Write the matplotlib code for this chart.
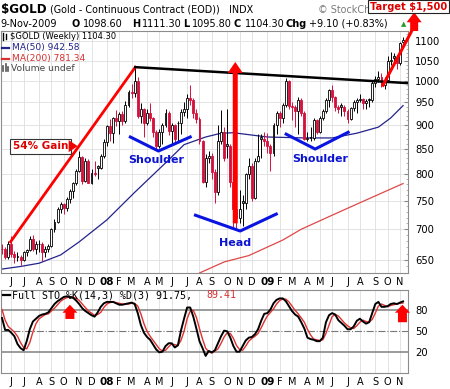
import matplotlib
matplotlib.use('Agg')
import matplotlib.pyplot as plt
import numpy as np
import pandas as pd
from matplotlib.patches import Polygon
from matplotlib.lines import Line2D
from matplotlib.transforms import IdentityTransform
from matplotlib.ticker import FixedLocator, NullFormatter

plt.rcParams['font.family'] = ['DejaVu Sans']

W, H = 450, 389

#--------
# weekly bars, week of 14-May-2007 up to week of 9-Nov-2009
week_start = '2007-05-14'

opens = [668, 667, 655, 676, 660, 655, 655, 650, 662, 666,
         683, 667, 675, 675, 663, 668, 673, 700, 712, 735,
         743, 737, 752, 767, 783, 806, 832, 786, 825, 783,
         802, 816, 812, 835, 863, 897, 883, 914, 908, 924,
         908, 945, 975, 972, 1000, 920, 935, 905, 925, 915,
         885, 855, 885, 900, 925, 887, 900, 905, 903, 928,
         935, 960, 955, 926, 913, 865, 785, 830, 835, 803,
         765, 865, 885, 860, 855, 785, 735, 720, 750, 745,
         800, 815, 755, 825, 875, 870, 865, 855, 840, 900,
         925, 915, 945, 1000, 942, 940, 930, 955, 925, 870,
         875, 872, 910, 885, 915, 930, 955, 978, 962, 940,
         945, 940, 930, 912, 937, 950, 955, 958, 948, 958,
         955, 995, 1006, 1010, 990, 1003, 1050, 1062, 1058, 1045,
         1098.6]
highs = [675, 670, 680, 688, 664, 662, 658, 664, 668, 688,
         690, 680, 682, 678, 672, 676, 702, 718, 738, 748,
         746, 756, 772, 785, 810, 845, 835, 830, 828, 810,
         825, 818, 838, 870, 900, 912, 918, 932, 928, 930,
         952, 978, 992, 1034, 1010, 948, 938, 935, 948, 918,
         888, 890, 905, 935, 930, 905, 902, 908, 935, 950,
         970, 990, 960, 935, 918, 868, 838, 845, 840, 810,
         900, 932, 895, 935, 860, 790, 745, 770, 760, 802,
         830, 820, 830, 880, 880, 885, 882, 860, 905, 930,
         930, 948, 1007, 1002, 950, 945, 962, 960, 930, 885,
         895, 915, 912, 920, 935, 960, 982, 990, 965, 945,
         948, 945, 935, 940, 955, 960, 970, 960, 958, 960,
         1000, 1012, 1024, 1020, 1010, 1062, 1072, 1070, 1065, 1098,
         1111.3]
lows = [660, 652, 652, 655, 646, 648, 642, 648, 656, 664,
        664, 660, 662, 648, 655, 662, 670, 696, 710, 728,
        726, 732, 746, 755, 778, 803, 780, 784, 782, 780,
        795, 790, 810, 830, 855, 865, 862, 898, 880, 900,
        905, 940, 960, 962, 915, 905, 875, 900, 908, 875,
        848, 852, 860, 895, 878, 860, 862, 865, 880, 920,
        915, 945, 915, 905, 860, 782, 775, 820, 790, 745,
        760, 860, 825, 830, 775, 700, 698, 710, 705, 735,
        790, 750, 752, 822, 830, 855, 840, 805, 835, 880,
        895, 905, 940, 935, 910, 895, 880, 920, 868, 865,
        865, 868, 880, 882, 910, 925, 940, 950, 930, 925,
        920, 920, 905, 910, 930, 925, 950, 935, 935, 940,
        950, 985, 998, 985, 982, 1000, 1040, 1040, 1030, 1040,
        1095.8]
closes = [667, 655, 676, 660, 655, 655, 650, 662, 666, 683,
          667, 675, 675, 663, 668, 673, 700, 712, 735, 743,
          737, 752, 767, 783, 806, 832, 786, 825, 783, 802,
          800, 812, 835, 863, 897, 883, 914, 908, 924, 908,
          945, 975, 972, 1000, 920, 935, 905, 925, 915, 885,
          855, 885, 900, 925, 887, 900, 870, 903, 928, 935,
          960, 955, 926, 913, 865, 785, 830, 835, 803, 765,
          865, 885, 830, 855, 785, 735, 720, 735, 745, 800,
          815, 755, 825, 835, 870, 865, 855, 840, 900, 925,
          915, 945, 1000, 942, 940, 930, 955, 925, 870, 870,
          872, 910, 885, 915, 930, 955, 978, 962, 940, 935,
          940, 930, 912, 937, 950, 955, 958, 948, 952, 955,
          995, 1006, 1010, 990, 1003, 1050, 1050, 1058, 1045, 1095,
          1104.3]

# moving averages (bar index -> value)
ma50_bars = [0, 6, 12, 19, 25, 34, 43, 54, 59, 66, 71, 75, 86, 98, 107, 115, 122, 126, 130]
ma50_vals = [636, 640, 645, 658, 679, 716, 765, 827, 858, 874, 882, 883, 874, 872, 872, 882, 895, 915, 942.58]
ma200_bars = [63, 64, 72, 80, 91, 97, 107, 118, 130]
ma200_vals = [625, 630, 647, 657, 682, 700, 724, 751, 781.34]

# full stochastics %K(14,3) and %D(3)
pct_k = [68, 51, 51, 47, 42, 31, 25, 22, 35, 52,
         63, 67, 71, 73, 74, 76, 82, 88, 92, 95,
         98, 99, 98, 97, 93, 88, 82, 78, 75, 72,
         70, 76, 84, 89, 91, 91, 91, 89, 87, 87,
         88, 89, 90, 88, 75, 58, 47, 41, 37, 30,
         23, 19, 20, 28, 32, 32, 26, 29, 50, 67,
         83, 83, 70, 53, 35, 25, 14, 21, 19, 22,
         32, 42, 50, 49, 40, 28, 20, 20, 28, 36,
         40, 41, 45, 52, 64, 74, 75, 80, 89, 94,
         96, 96, 92, 85, 78, 73, 70, 62, 53, 40,
         38, 37, 35, 35, 40, 62, 72, 75, 73, 65,
         61, 57, 52, 52, 56, 64, 67, 63, 60, 62,
         75, 88, 91, 84, 84, 85, 88, 89, 88, 90,
         91.75]
pct_d = [80, 65, 56, 52, 48, 42, 33, 26, 24, 33,
         48, 60, 67, 70, 73, 74, 78, 82, 87, 92,
         95, 97, 98, 98, 96, 93, 88, 83, 78, 75,
         72, 73, 76, 83, 88, 90, 91, 90, 89, 88,
         88, 88, 89, 89, 85, 74, 60, 49, 42, 36,
         30, 24, 21, 22, 27, 31, 30, 29, 36, 49,
         67, 78, 79, 69, 53, 38, 25, 20, 18, 21,
         24, 32, 41, 47, 46, 39, 29, 23, 22, 28,
         35, 39, 42, 46, 54, 63, 71, 76, 81, 88,
         93, 95, 95, 91, 85, 79, 74, 68, 62, 52,
         44, 38, 37, 36, 37, 46, 58, 70, 73, 71,
         66, 61, 57, 54, 53, 57, 62, 65, 63, 62,
         66, 75, 85, 88, 86, 84, 86, 87, 88, 89,
         89.41]

price_ticks = [650, 700, 750, 800, 850, 900, 950, 1000, 1050, 1100]
sto_ticks = [20, 50, 80]

candle_red = '#d4103c'
arrow_red = '#ff0000'
pattern_blue = '#0a14e0'

#--------
def fx(x):
    return x / W

def fy(y):
    return 1 - y / H

fig = plt.figure(figsize=(W / 100, H / 100), dpi=100)
fig.patch.set_facecolor('white')

ax = fig.add_axes([fx(0.5), fy(273), (408 - 0.5) / W, (273 - 31) / H])
ax2 = fig.add_axes([fx(0.5), fy(372.7), (408 - 0.5) / W, (372.7 - 290) / H])

n = len(closes)
bars = np.arange(n)
dates = pd.date_range(week_start, periods=n, freq='7D')

# month ticks at first weekly bar of each month
tick_pos = [i for i, d in enumerate(dates) if d.day <= 7]
tick_lab = [dates[i].strftime('%y') if dates[i].month == 1 else dates[i].strftime('%b')[0]
            for i in tick_pos]

for a in (ax, ax2):
    a.set_xlim(-0.5, 131.6)
    for s in a.spines.values():
        s.set_color('#8c8c8c')
        s.set_linewidth(0.8)
    a.set_xticks(tick_pos)
    a.set_xticklabels(tick_lab, fontsize=7)
    for lab, d in zip(a.get_xticklabels(), tick_pos):
        if dates[d].month == 1:
            lab.set_fontweight('bold')
            lab.set_fontsize(7.5)
    a.tick_params(axis='x', length=0, pad=3)
    a.yaxis.tick_right()
    a.grid(True, which='major', color='#dedede', lw=0.6)
    a.set_axisbelow(True)

#--------
# price panel
ax.set_yscale('log')
ax.set_ylim(630, 1128)
ax.yaxis.set_major_locator(FixedLocator(price_ticks))
ax.yaxis.set_minor_locator(FixedLocator(list(range(640, 1130, 10))))
ax.yaxis.set_major_formatter(plt.FixedFormatter([str(v) for v in price_ticks]))
ax.yaxis.set_minor_formatter(NullFormatter())
ax.tick_params(axis='y', which='major', direction='in', length=3, color='#888888',
               labelsize=7.2, pad=5)
ax.tick_params(axis='y', which='minor', direction='in', length=1.5, color='#aaaaaa')

edges, faces = [], []
for i in bars:
    prev = closes[i - 1] if i > 0 else opens[i]
    edge = 'black' if closes[i] >= prev else candle_red
    if closes[i] >= opens[i]:
        face = 'white'
    else:
        face = '#9a9a9a' if edge == 'black' else candle_red
    edges.append(edge)
    faces.append(face)

body_lo = np.minimum(opens, closes)
body_h = np.maximum(np.abs(np.array(closes) - np.array(opens)), 1.0)
ax.vlines(bars, lows, highs, colors=edges, lw=0.7, zorder=3)
ax.bar(bars, body_h, bottom=body_lo, width=0.62, color=faces, edgecolor=edges,
       linewidth=0.6, zorder=4)

ax.plot(ma50_bars, ma50_vals, color='#23238c', lw=0.9, zorder=2)
ax.plot(ma200_bars, ma200_vals, color='#e04848', lw=0.9, zorder=2)

# annotations: 54% run-up, neckline, head & shoulders, target
ax.plot([2.75, 43.2], [679, 1034], color=arrow_red, lw=2, zorder=5)
ax.plot([43.2, 131.6], [1034, 995], color='black', lw=1.8, zorder=5)
ax.plot([123.5, 133.3], [990, 1136], color=arrow_red, lw=2.2, zorder=6, clip_on=False)

ax.plot([41.6, 50.7, 61.0], [874, 845, 874], color=pattern_blue, lw=2.2, zorder=5)
ax.plot([62.7, 77.2, 88.9], [724, 697, 726], color=pattern_blue, lw=2.2, zorder=5)
ax.plot([92.1, 101.5, 112.2], [880, 849, 884], color=pattern_blue, lw=2.2, zorder=5)

txt_kw = dict(ha='center', va='center', color='#0a14d0', fontweight='bold', fontsize=8, zorder=6)
ax.text(50.0, 827, 'Shoulder', **txt_kw)
ax.text(75.6, 677, 'Head', **txt_kw)
ax.text(103.1, 829, 'Shoulder', **txt_kw)

ax.text(12.5, 855, '54% Gain', ha='center', va='center', color='#dd0000',
        fontweight='bold', fontsize=7.5, zorder=7,
        bbox=dict(boxstyle='square,pad=0.25', fc='white', ec='#333333', lw=0.8))


def block_arrow(a, x, y_tail, y_tip, head_w, head_h, shaft_w):
    cx, top = a.transData.transform((x, y_tip))
    _, bot = a.transData.transform((x, y_tail))
    pts = [(cx, top), (cx + head_w / 2, top - head_h), (cx + shaft_w / 2, top - head_h),
           (cx + shaft_w / 2, bot), (cx - shaft_w / 2, bot), (cx - shaft_w / 2, top - head_h),
           (cx - head_w / 2, top - head_h)]
    fig.add_artist(Polygon(pts, closed=True, transform=IdentityTransform(),
                           fc=arrow_red, ec='none', zorder=8))


# triangle tab of the 54% Gain label
gx, gy = ax.transData.transform((21.6, 855))
fig.add_artist(Polygon([(gx, gy + 6), (gx + 9, gy), (gx, gy - 6)], closed=True,
                       transform=IdentityTransform(), fc='#ee0000', ec='none', zorder=8))

block_arrow(ax, 75.6, 710, 1047, 15, 11, 5)
block_arrow(ax, 133.6, 1128, 1180, 15, 10, 8)

#--------
# stochastics panel
ax2.set_ylim(-10, 108)
ax2.set_yticks(sto_ticks)
ax2.tick_params(axis='y', length=0, labelsize=7.2, pad=5)
ax2.grid(False, axis='y')
ax2.axhline(80, color='#8a8a8a', lw=1.2, zorder=1)
ax2.axhline(20, color='#8a8a8a', lw=1.2, zorder=1)
ax2.axhline(50, color='#777777', lw=0.8, ls='-.', zorder=1)
ax2.plot(bars, pct_d, color='#e03030', lw=1.0, zorder=3)
ax2.plot(bars, pct_k, color='black', lw=1.4, zorder=4)

block_arrow(ax2, 22.0, 66.7, 87, 15, 8, 9)
block_arrow(ax2, 129.8, 62, 87, 15, 8, 9)

#--------
# header
fig.text(fx(1), fy(10), '$GOLD', fontsize=8.6, fontweight='bold', va='center')
fig.text(fx(50), fy(10), '(Gold - Continuous Contract (EOD))', fontsize=6.9, va='center')
fig.text(fx(229), fy(10), 'INDX', fontsize=6.9, va='center')
fig.text(fx(318), fy(10), '\u00a9 StockCha', fontsize=6.9, va='center', color='#7a7a7a')
fig.text(fx(408.5), fy(6.5), 'Target $1,500', ha='center', va='center', color='#dd0000',
         fontweight='bold', fontsize=7.1, zorder=9,
         bbox=dict(boxstyle='square,pad=0.2', fc='white', ec='#222222', lw=0.8))

row2 = [(0, '9-Nov-2009', 'normal'), (72, 'O', 'bold'), (83, '1098.60', 'normal'),
        (132, 'H', 'bold'), (142, '1111.30', 'normal'), (183, 'L', 'bold'),
        (192, '1095.80', 'normal'), (234, 'C', 'bold'), (245, '1104.30', 'normal'),
        (285, 'Chg', 'bold'), (309, '+9.10 (+0.83%)', 'normal')]
for x, s, wt in row2:
    fig.text(fx(x), fy(24), s, fontsize=7.0, fontweight=wt, va='center')
fig.text(fx(404), fy(24), '\u25b2', fontsize=5, color='#2a9a2a', va='center', ha='center')

# legend of price panel
fig.add_artist(Line2D([fx(3), fx(3)], [fy(33), fy(40)], color='black', lw=1))
fig.add_artist(Line2D([fx(6), fx(6)], [fy(34), fy(39)], color='black', lw=1))
fig.text(fx(10), fy(36.5), '$GOLD (Weekly) 1104.30', fontsize=6.0, va='center')
fig.add_artist(Line2D([fx(2), fx(9)], [fy(47.5), fy(47.5)], color='#23238c', lw=1.6))
fig.text(fx(12), fy(47.5), 'MA(50) 942.58', fontsize=6.6, va='center', color='#23238c')
fig.add_artist(Line2D([fx(2), fx(9)], [fy(58.5), fy(58.5)], color='#d83030', lw=1.6))
fig.text(fx(12), fy(58.5), 'MA(200) 781.34', fontsize=6.6, va='center', color='#d83030')
for x0, h0 in [(3, 5), (5.5, 7), (8, 4)]:
    fig.add_artist(Line2D([fx(x0), fx(x0)], [fy(71), fy(71 - h0)], color='#555555', lw=1.2))
fig.text(fx(11), fy(68.5), 'Volume undef', fontsize=6.6, va='center', color='#444444')

# legend of stochastics panel
fig.add_artist(Line2D([fx(3), fx(10)], [fy(295), fy(295)], color='black', lw=1.6))
fig.text(fx(12), fy(295), 'Full STO %K(14,3) %D(3) 91.75,', fontsize=7.2, va='center',
         family='DejaVu Sans Mono')
fig.text(fx(206), fy(295), '89.41', fontsize=7.2, va='center', color='#d83030',
         family='DejaVu Sans Mono')

fig.savefig('out.png', dpi=100, facecolor='white')
